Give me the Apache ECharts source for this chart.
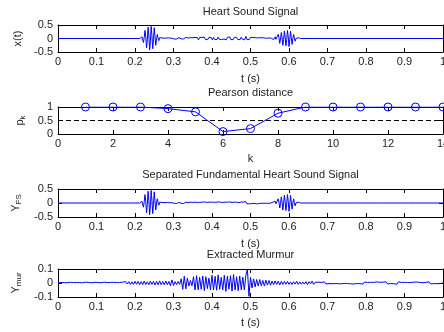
<!DOCTYPE html>
<html><head><meta charset="utf-8">
<script src="https://cdn.jsdelivr.net/npm/echarts@6/dist/echarts.min.js"></script>
<style>html,body{margin:0;padding:0;background:#fff}#c{width:444px;height:332px}</style>
</head><body><div id="c"></div>
<script>
// ---------------- DATA ----------------
const titles = ['Heart Sound Signal', 'Pearson distance', 'Separated Fundamental Heart Sound Signal', 'Extracted Murmur'];
const xNames = ['t (s)', 'k', 't (s)', 't (s)'];

// sampling steps of hand-read segments
const dtBurst = 0.002, dtNoise = 0.003, dtMur = 0.004;

// x(t): first heart sound burst (starts 0.212 s)
const s1Start = 0.212;
const s1Vals = [0,0.02,-0.04,0.06,0.02,-0.15,0.05,0.30,0.05,-0.35,
  -0.05,0.42,0.1,-0.42,-0.1,0.45,0.1,-0.38,-0.05,0.40,
  0.05,-0.25,0,0.15,0,-0.08,0.03,0.04,-0.03,0.02];
// x(t): low-level noise between sounds (starts 0.272 s)
const noiseStart = 0.272;
const xtNoise = [0.02,-0.02,0.01,-0.02,0.02,-0.01,0.02,-0.03,0.01,0.02,
  -0.02,0.01,-0.02,0.02,0.03,-0.02,-0.01,0.02,-0.02,0.02,
  0.04,-0.03,0.02,-0.03,0.03,-0.04,0.03,-0.02,0.04,-0.03,
  0.03,-0.05,0.04,-0.03,0.04,-0.02,0.05,-0.04,0.03,-0.04,
  0.04,-0.03,0.04,-0.05,0.04,-0.04,0.03,-0.04,0.05,-0.03,
  0.04,-0.04,0.03,-0.02,0.04,-0.05,0.04,-0.03,0.06,-0.04,
  0.03,-0.04,0.04,-0.03,0.04,-0.04,0.02,-0.04,0.05,-0.03,
  0.04,-0.05,0.08,-0.04,0.03,-0.04,0.04,-0.03,0.04,-0.02,
  0.03,-0.03,0.02,-0.03,0.03,-0.02,0.03,-0.01,0.02,-0.02,
  0.01,-0.02,0.02,-0.01,0.01];
// second heart sound burst (starts 0.556 s)
const s2Start = 0.556;
const s2Vals = [0,0.03,-0.04,0.02,0.06,-0.03,-0.10,0.02,0.15,0.03,
  -0.18,-0.02,0.22,0.04,-0.25,-0.03,0.28,0.05,-0.27,-0.04,
  0.30,0.06,-0.30,-0.05,0.27,0.03,-0.22,0,0.15,0.02,
  -0.10,0,0.06,-0.03,0.03,-0.02,0.01,0];
const xtBlips = [[0.662,0.04]];

// Pearson distance
const kVals = [1,2,3,4,5,6,7,8,9,10,11,12,13,14];
const pVals = [1,1,1,0.94,0.82,0.09,0.2,0.77,1,1,1,1,1,1];
const pThreshold = 0.5;

// Y_FS noise (starts 0.272 s) and blips
const fsNoise = [0.01,-0.02,0.01,-0.01,0.02,-0.01,0.01,-0.02,0.01,0.02,
  -0.01,0.01,-0.02,0.01,0.02,-0.01,-0.01,0.02,-0.02,0.01,
  0.03,-0.02,0.01,-0.02,0.03,-0.03,0.02,-0.01,0.03,-0.02,
  0.02,-0.03,0.02,-0.02,0.03,-0.01,0.04,-0.03,0.02,-0.03,
  0.03,-0.02,0.03,-0.04,0.03,-0.02,0.02,-0.03,0.04,-0.02,
  0.03,-0.03,0.02,-0.01,0.03,-0.04,0.03,-0.02,0.04,-0.03,
  0.02,-0.03,0.03,-0.02,0.03,-0.03,0.01,-0.02,0.04,-0.02,
  0.03,-0.04,0.05,-0.03,0.02,-0.03,0.03,-0.02,0.03,-0.01,
  0.02,-0.03,0.01,-0.02,0.03,-0.01,0.02,-0.01,0.01,-0.01,
  0.01,-0.01,0.01,-0.01,0.01];
const fsBlips = [[0.12,0.03],[0.19,0.02],[0.664,0.03],[0.72,0.02],[0.78,0.015],[0.84,0.02],[0.885,0.02],[0.93,0.02],[0.965,0.02]];

// Murmur, whole record from 0 s
const murVals = [0.002,-0.003,0.004,-0.002,0.003,-0.004,0.002,-0.003,0.005,-0.004,
  0.003,-0.002,0.004,-0.005,0.003,-0.003,0.002,-0.004,0.006,-0.005,
  0.003,-0.004,0.002,-0.003,0.005,-0.006,0.004,-0.003,0.002,-0.004,
  0.006,-0.005,0.003,-0.002,0.004,-0.003,0.005,-0.004,0.003,-0.005,
  0.004,-0.003,0.006,-0.008,0.01,-0.007,0.009,-0.011,0.008,-0.01,
  0.012,-0.009,0.011,-0.013,0.01,-0.012,0.014,-0.011,0.009,-0.012,
  0.013,-0.01,0.012,-0.014,0.011,-0.013,0.015,-0.012,0.01,-0.013,
  0.014,-0.012,0.011,-0.02,0.022,-0.018,0.01,-0.012,0.011,-0.01,
  0.03,-0.045,0.048,-0.042,0.035,-0.022,0.018,-0.02,0.045,-0.05,
  0.052,-0.048,0.04,-0.045,0.05,-0.055,0.045,-0.04,0.035,-0.05,
  0.055,-0.05,0.048,-0.052,0.058,-0.045,0.04,-0.05,0.055,-0.06,
  0.05,-0.045,0.052,-0.058,0.06,-0.05,0.045,-0.055,0.05,-0.048,
  0.042,-0.05,0.055,0.1,-0.095,0.04,-0.035,0.03,-0.028,0.025,
  -0.022,0.025,-0.02,0.018,-0.022,0.02,-0.015,0.018,-0.016,0.014,
  -0.012,0.015,-0.01,0.012,-0.014,0.011,-0.01,0.012,-0.009,0.011,
  -0.01,0.008,-0.011,0.009,-0.008,0.012,-0.01,0.008,-0.009,0.007,
  -0.008,0.01,-0.012,0.009,-0.006,0.014,-0.01,0.005,-0.004,0.006,
  -0.005,0.004,-0.006,0.008,-0.007,0.005,-0.004,0.003,-0.005,0.006,
  -0.004,0.003,-0.005,0.007,-0.006,0.004,-0.003,0.005,-0.004,0.003,
  -0.006,0.008,-0.007,0.005,-0.004,0.003,-0.005,0.006,-0.008,0.007,
  -0.005,0.004,-0.003,0.005,-0.006,0.004,-0.007,0.008,-0.006,0.005,
  -0.004,0.006,-0.008,0.009,-0.007,0.005,-0.004,0.003,-0.005,0.007,
  -0.009,0.008,-0.006,0.004,-0.003,0.005,-0.004,0.003,-0.002,0.003,
  -0.004,0.006,-0.008,0.007,-0.005,0.004,-0.003,0.002,-0.004,0.005,
  -0.006,0.008,-0.007,0.005,-0.004,0.003,-0.005,0.006,-0.004,0.003,
  0];

// ---------------- BUILD ----------------
function seg(start, dt, vals) { return vals.map((v, i) => [Math.round((start + i * dt) * 10000) / 10000, v]); }
function spikes(list) { const o = []; list.forEach(([t, v]) => { o.push([t - 0.002, 0], [t, v], [t + 0.002, 0]); }); return o; }
function build(...parts) { const p = [[0, 0]].concat(...parts, [[1, 0]]); p.sort((a, b) => a[0] - b[0]); return p; }

const xtData = build(seg(s1Start, dtBurst, s1Vals), seg(noiseStart, dtNoise, xtNoise), seg(s2Start, dtBurst, s2Vals), spikes(xtBlips));
const fsData = build(seg(s1Start, dtBurst, s1Vals), seg(noiseStart, dtNoise, fsNoise), seg(s2Start, dtBurst, s2Vals), spikes(fsBlips));
const murData = build(seg(0, dtMur, murVals));
const pData = kVals.map((k, i) => [k, pVals[i]]);

const FONT = '"Liberation Sans", Arial, Helvetica, sans-serif';
const TXT = '#222';
const BLUE = '#0000ff';
const L = 58, R = 1;
const grids = [
  { top: 25, h: 27 }, { top: 107, h: 27 }, { top: 189, h: 28 }, { top: 269, h: 28 }
];
const fmt = v => String(+v.toFixed(2));
const xCfg = [
  { min: 0, max: 1, interval: 0.1, gap: 21 },
  { min: 0, max: 14, interval: 2, gap: 19 },
  { min: 0, max: 1, interval: 0.1, gap: 21 },
  { min: 0, max: 1, interval: 0.1, gap: 20 }
];
const yCfg = [
  { min: -0.5, max: 0.5, interval: 0.5, name: 'x(t)' },
  { min: 0, max: 1, interval: 0.5, name: '{b|p}{s|k}' },
  { min: -0.5, max: 0.5, interval: 0.5, name: '{b|Y}{s|FS}' },
  { min: -0.1, max: 0.1, interval: 0.1, name: '{b|Y}{s|mur}' }
];

const axisLine = { show: true, onZero: false, lineStyle: { color: '#000', width: 1 } };
const tick = { show: true, inside: true, length: 4, lineStyle: { color: '#000', width: 1 } };

const option = { animation: false, backgroundColor: '#fff', title: [], grid: [], xAxis: [], yAxis: [], series: [] };
grids.forEach((g, i) => {
  option.title.push({ text: titles[i], left: L + (444 - L - R) / 2, textAlign: 'center', top: g.top - (i === 0 ? 19 : 20), padding: 0,
    textStyle: { fontFamily: FONT, fontSize: 11, fontWeight: 'normal', color: TXT } });
  option.grid.push({ left: L, right: R, top: g.top, height: g.h, containLabel: false, outerBoundsMode: 'none' });
  const xc = xCfg[i], yc = yCfg[i];
  option.xAxis.push({ type: 'value', gridIndex: i, position: 'bottom', min: xc.min, max: xc.max, interval: xc.interval,
    name: xNames[i], nameLocation: 'middle', nameGap: xc.gap, nameTextStyle: { fontFamily: FONT, fontSize: 11, color: TXT },
    axisLine, axisTick: tick, splitLine: { show: false },
    axisLabel: { fontFamily: FONT, fontSize: 11, color: TXT, margin: 4, formatter: fmt, showMaxLabel: true, showMinLabel: true } });
  option.xAxis.push({ type: 'value', gridIndex: i, position: 'top', min: xc.min, max: xc.max, interval: xc.interval,
    axisLine, axisTick: tick, splitLine: { show: false }, axisLabel: { show: false } });
  option.yAxis.push({ type: 'value', gridIndex: i, position: 'left', min: yc.min, max: yc.max, interval: yc.interval,
    name: yc.name, nameLocation: 'middle', nameGap: 22, nameRotate: 90,
    nameTextStyle: { fontFamily: FONT, fontSize: 11, color: TXT,
      rich: { b: { fontFamily: FONT, fontSize: 11, color: TXT }, s: { fontFamily: FONT, fontSize: 8, color: TXT, padding: [6, 0, 0, 0] } } },
    axisLine, axisTick: tick, splitLine: { show: false },
    axisLabel: { fontFamily: FONT, fontSize: 11, color: TXT, margin: 5, formatter: fmt } });
  option.yAxis.push({ type: 'value', gridIndex: i, position: 'right', min: yc.min, max: yc.max, interval: yc.interval,
    axisLine, axisTick: tick, splitLine: { show: false }, axisLabel: { show: false } });
});

const lineSeries = (data, gi) => ({ type: 'line', xAxisIndex: gi * 2, yAxisIndex: gi * 2, data, showSymbol: false, symbol: 'none',
  lineStyle: { color: BLUE, width: 1 }, itemStyle: { color: BLUE }, sampling: null, silent: true });
option.series.push(lineSeries(xtData, 0));
option.series.push({ type: 'line', xAxisIndex: 2, yAxisIndex: 2, data: pData, symbol: 'circle', symbolSize: 8, showSymbol: true,
  lineStyle: { color: BLUE, width: 1 }, itemStyle: { color: 'rgba(0,0,0,0)', borderColor: BLUE, borderWidth: 1 }, silent: true,
  markLine: { silent: true, symbol: 'none', label: { show: false }, lineStyle: { color: '#000', width: 1, type: [5, 3] },
    data: [{ yAxis: pThreshold }] } });
option.series.push(lineSeries(fsData, 2));
option.series.push(lineSeries(murData, 3));

const chart = echarts.init(document.getElementById('c'), null, { renderer: 'canvas' });
chart.setOption(option);
</script></body></html>
